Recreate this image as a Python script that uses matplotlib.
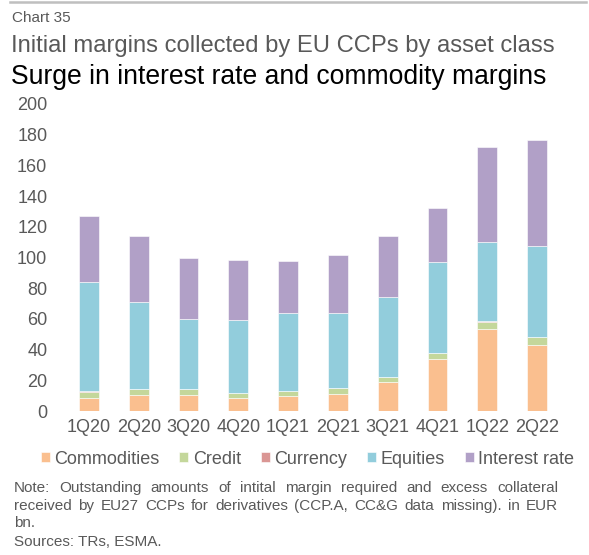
import matplotlib.pyplot as plt
import numpy as np

plt.rcParams['font.family'] = ['Liberation Sans', 'DejaVu Sans']

quarters = ["1Q20", "2Q20", "3Q20", "4Q20", "1Q21", "2Q21", "3Q21", "4Q21", "1Q22", "2Q22"]
commodities = [8.3, 10.2, 10.2, 8.3, 9.5, 11.1, 18.7, 33.9, 53.4, 42.8]
credit = [4.3, 4.1, 4.1, 3.2, 3.5, 3.7, 3.4, 3.9, 4.8, 5.2]
currency = [0.2, 0.2, 0.2, 0.2, 0.2, 0.2, 0.2, 0.2, 0.2, 0.2]
equities = [71.2, 56.7, 45.4, 47.6, 50.4, 49.1, 51.7, 58.9, 51.7, 59.3]
interest_rate = [43.0, 42.6, 39.8, 39.1, 33.9, 37.3, 39.8, 35.3, 62.1, 69.0]

series = [("Commodities", commodities, "#FABF8F"),
          ("Credit", credit, "#C4D79B"),
          ("Currency", currency, "#DA9694"),
          ("Equities", equities, "#92CDDC"),
          ("Interest rate", interest_rate, "#B1A0C7")]

grey = "#595959"
W, H = 589, 555

fig = plt.figure(figsize=(W / 100, H / 100), dpi=100)
ax = fig.add_axes([64 / W, 1 - 411 / H, 498 / W, 307 / H])

x = np.arange(len(quarters))
bottom = np.zeros(len(quarters))
for name, vals, col in series:
    ax.bar(x, vals, width=0.4, bottom=bottom, color=col, label=name,
           edgecolor="white", linewidth=0.4)
    bottom += np.array(vals)

ax.set_xlim(-0.5, len(quarters) - 0.5)
ax.set_ylim(0, 200)
ax.set_yticks(range(0, 201, 20))
ax.set_xticks(x)
ax.set_xticklabels(quarters)
ax.tick_params(axis="both", length=0, labelsize=13, colors=grey, pad=6)
ax.tick_params(axis="y", pad=12)
for s in ax.spines.values():
    s.set_visible(False)

# top rule and titles
fig.add_artist(plt.Line2D([10 / W, 586 / W], [1 - 1.5 / H, 1 - 1.5 / H],
                          color="#BFBFBF", lw=1.8))
fig.text(12 / W, 1 - 18 / H, "Chart 35", fontsize=11, color=grey, va="center")
fig.text(11 / W, 1 - 46 / H, "Initial margins collected by EU CCPs by asset class",
         fontsize=17.1, color=grey, va="center")
fig.text(11 / W, 1 - 77 / H, "Surge in interest rate and commodity margins",
         fontsize=19.1, color="black", va="center")

fig.legend(loc="center", bbox_to_anchor=(307.5 / W, 1 - 459 / H), ncol=5, frameon=False,
           fontsize=13, handlelength=0.5, handleheight=0.5, handletextpad=0.25,
           columnspacing=1.1, labelcolor=grey, borderpad=0, borderaxespad=0)

# justified note
note_lines = ["Note: Outstanding amounts of intital margin required and excess collateral",
              "received by EU27 CCPs for derivatives (CCP.A, CC&G data missing). in EUR"]
note_size = 11
fig.canvas.draw()
renderer = fig.canvas.get_renderer()
x0, x1 = 14 / W, 558 / W
ys = [1 - 488 / H, 1 - 506 / H]
for line, yy in zip(note_lines, ys):
    words = line.split(" ")
    widths = []
    for w in words:
        t = fig.text(0, 0, w, fontsize=note_size)
        widths.append(t.get_window_extent(renderer).width / fig.bbox.width)
        t.remove()
    gap = (x1 - x0 - sum(widths)) / (len(words) - 1)
    xx = x0
    for w, wd in zip(words, widths):
        fig.text(xx, yy, w, fontsize=note_size, color=grey, va="center")
        xx += wd + gap
fig.text(x0, 1 - 523 / H, "bn.", fontsize=note_size, color=grey, va="center")
fig.text(x0, 1 - 542 / H, "Sources: TRs, ESMA.", fontsize=note_size, color=grey, va="center")

fig.savefig("out.png", dpi=100)
